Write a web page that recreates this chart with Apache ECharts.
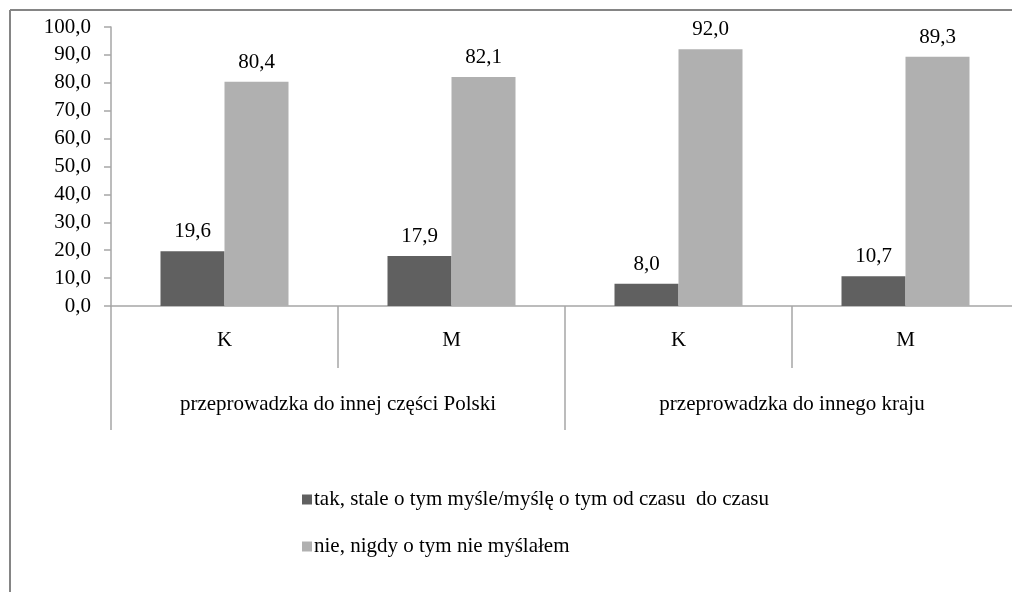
<!DOCTYPE html>
<html>
<head>
<meta charset="utf-8">
<script src="https://cdn.jsdelivr.net/npm/echarts@6/dist/echarts.min.js"></script>
<style>html,body{margin:0;padding:0;background:#fff}#c{width:1012px;height:592px}</style>
</head>
<body>
<div id="c"></div>
<script>
const categories = ['K', 'M', 'K', 'M'];
const groups = ['przeprowadzka do innej części Polski', 'przeprowadzka do innego kraju'];
const seriesNames = ['tak, stale o tym myśle/myślę o tym od czasu  do czasu', 'nie, nigdy o tym nie myślałem'];
const yesValues = [19.6, 17.9, 8.0, 10.7];
const noValues = [80.4, 82.1, 92.0, 89.3];
const yTicks = { min: 0, max: 100, interval: 10 };

const font = 'Liberation Serif';
const fs = 21;
const chart = echarts.init(document.getElementById('c'));
const fmt = v => Number(v).toFixed(1).replace('.', ',');
const labelCfg = {
  show: true, position: 'top', distance: 9, color: '#000',
  fontFamily: font, fontSize: fs,
  formatter: p => fmt(p.value)
};
const gridLine = { color: '#a6a6a6', width: 1.5 };
chart.setOption({
  animation: false,
  textStyle: { fontFamily: font },
  graphic: [
    { type: 'line', shape: { x1: 10, y1: 10, x2: 10, y2: 592 }, style: { stroke: '#858585', lineWidth: 2 } },
    { type: 'line', shape: { x1: 10, y1: 10, x2: 1012, y2: 10 }, style: { stroke: '#858585', lineWidth: 2 } }
  ],
  grid: { left: 111, width: 908, top: 27, bottom: 286, outerBoundsMode: 'none', containLabel: false },
  legend: {
    orient: 'vertical', left: 297, top: 484,
    itemWidth: 10, itemHeight: 10, itemGap: 26, icon: 'rect',
    textStyle: { fontFamily: font, fontSize: fs, color: '#000', padding: [0, 0, 0, -3] },
    data: seriesNames
  },
  xAxis: [
    {
      type: 'category', data: categories, position: 'bottom',
      axisLine: { lineStyle: gridLine },
      axisTick: { show: true, length: 62, lineStyle: gridLine },
      axisLabel: { margin: 24, color: '#000', fontFamily: font, fontSize: fs }
    },
    {
      type: 'category', data: groups, position: 'bottom', offset: 62,
      axisLine: { show: false },
      axisTick: { show: true, length: 62, lineStyle: gridLine },
      axisLabel: { margin: 26, color: '#000', fontFamily: font, fontSize: fs }
    }
  ],
  yAxis: {
    type: 'value', min: yTicks.min, max: yTicks.max, interval: yTicks.interval,
    axisLine: { show: true, lineStyle: gridLine },
    axisTick: { show: true, length: 7, lineStyle: gridLine },
    splitLine: { show: false },
    axisLabel: { margin: 20, color: '#000', fontFamily: font, fontSize: fs, formatter: v => fmt(v) }
  },
  series: [
    { name: seriesNames[0], type: 'bar', data: yesValues, barWidth: 64, barGap: '0%', itemStyle: { color: '#606060' }, label: labelCfg },
    { name: seriesNames[1], type: 'bar', data: noValues, barWidth: 64, barGap: '0%', itemStyle: { color: '#b0b0b0' }, label: labelCfg }
  ]
});
</script>
</body>
</html>
